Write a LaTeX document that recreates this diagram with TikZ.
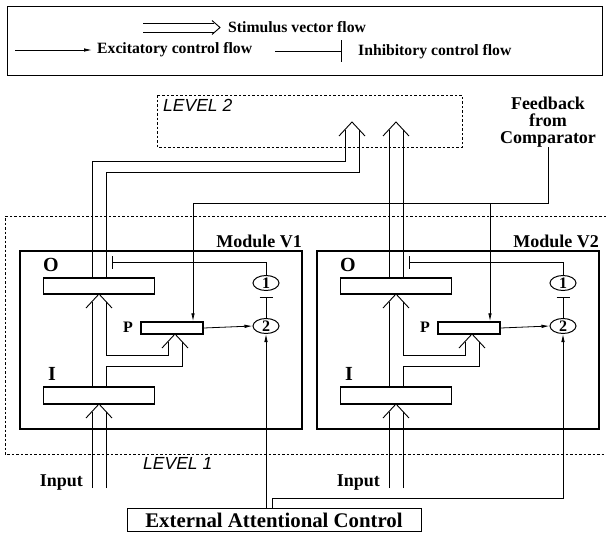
\documentclass[tikz,border=0pt]{standalone}
\usepackage{fontspec}
\setmainfont{Liberation Serif}
\setsansfont{Liberation Sans}
\usetikzlibrary{arrows.meta,shapes.geometric}

\tikzset{
  pipe/.style={line width=0.9pt},
  unit/.style={draw, line width=1.8pt, minimum width=111pt, minimum height=16pt, inner sep=0pt},
  pbox/.style={draw, line width=1.5pt, minimum width=62pt, minimum height=12pt, inner sep=0pt},
  module/.style={draw, line width=2.2pt, minimum width=282pt, minimum height=178pt, inner sep=0pt},
  cell/.style={draw, ellipse, line width=1pt, minimum width=26pt, minimum height=15pt, inner sep=0pt,
    font=\fontsize{16}{16}\selectfont\bfseries},
  excite/.style={line width=0.8pt, -{Latex[length=8pt,width=3.5pt]}},
  inhibit/.style={line width=0.8pt, -{Bar[width=13pt]}},
  level/.style={line width=0.8pt, dash pattern=on 2.5pt off 2pt},
  lbl/.style={font=\fontsize{15.7}{17}\selectfont\bfseries, inner sep=0pt},
  biglbl/.style={font=\fontsize{18}{17}\selectfont\bfseries, inner sep=0pt},
  levlbl/.style={font=\sffamily\itshape\fontsize{17.5}{17}\selectfont, inner sep=0pt},
}
% open chevron head of a stimulus pipe, tip at #2
\newcommand{\chev}[2][13]{\draw[pipe] #2 ++(-#1,14) -- ++(#1,-14) -- ++(#1,14);}

\begin{document}
\begin{tikzpicture}[x=1pt,y=-1pt]
\useasboundingbox (0,0) rectangle (606,533);

% legend
\draw[line width=0.8pt] (7,6) rectangle (602,75);
\draw[pipe] (143,23) -- (214,23) (143,32) -- (214,32);
\draw[pipe] (212,20.5) -- (220,27.5) -- (212,34.5);
\node[lbl, anchor=west] (stim) at (228,27) {Stimulus vector flow};
\coordinate (e0) at (15,50);
\coordinate (e1) at (92,50);
\draw[excite] (e0) -- (e1);
\node[lbl, anchor=west] (exc) at (97,50) {Excitatory control flow};
\coordinate (h0) at (275,51);
\coordinate (h1) at (342,51);
\draw[line width=0.8pt, -{Bar[width=22pt]}] (h0) -- (h1);
\node[lbl, anchor=west] (inh) at (358,52) {Inhibitory control flow};

% levels
\draw[level] (157,95) rectangle (462,147);
\node[levlbl, anchor=west] (lev2) at (163,105) {LEVEL 2};
\draw[level] (606,216) -- (5,216) -- (5,454) -- (606,454);
\node[levlbl, anchor=west] (lev1) at (143,463) {LEVEL 1};

\node[biglbl, align=center] (fb) at (548,122) {Feedback\\from\\Comparator};
\node[draw, line width=0.8pt, minimum width=294pt, minimum height=23pt, inner sep=0pt,
  font=\fontsize{20.8}{20}\selectfont\bfseries] (ext) at (274,520) {External Attentional Control};

% the two modules
\foreach \dx/\m in {0/1,297/2}{
\begin{scope}[xshift=\dx]
  \node[module] (mod\m) at (161,340) {};
  \node[biglbl, anchor=base east] at (302,247) {Module V\m};
  \node[unit] (O\m) at (99,286) {};
  \node[unit, minimum height=17pt] (I\m) at (99,395.5) {};
  \node[pbox] (P\m) at (172,328) {};
  \node[font=\fontsize{20}{20}\selectfont\bfseries, inner sep=0pt] at (51,265) {O};
  \node[font=\fontsize{20}{20}\selectfont\bfseries, inner sep=0pt] at (52,374) {I};
  \node[font=\fontsize{16}{16}\selectfont\bfseries, inner sep=0pt] at (128,327) {P};
  \node[cell] (a\m) at (266,283) {1};
  \node[cell] (b\m) at (266,326) {2};
  \node[biglbl, anchor=east] at (83,483) {Input};
  % stimulus pipes
  \draw[pipe] (92,488) -- (92,411.5) (106,488) -- (106,411.5);
  \chev{(99,404)}
  \draw[pipe] (92,387) -- (92,301.5);
  \draw[pipe] (106,301.5) -- (106,355) -- (168,355) -- (168,341.5);
  \draw[pipe] (106,387) -- (106,366) -- (182,366) -- (182,341.5);
  \chev{(99,294)}
  \chev{(175,334)}
  % control
  \draw[excite] (P\m.east) -- (b\m.west);
  \draw[inhibit, shorten >=5.5pt] (b\m.north) -- (a\m.south);
  \coordinate (x\m) at (112,262);
  \draw[inhibit] (a\m.north) |- (x\m);
\end{scope}
}

% outputs to level 2
\draw[pipe] (92,278) -- (92,161) -- (345,161) -- (345,129.5);
\draw[pipe] (106,278) -- (106,172) -- (359,172) -- (359,129.5);
\chev{(352,122)}
\draw[pipe] (389,277) -- (389,129.5) (403,277) -- (403,129.5);
\chev{(396,122)}

% feedback
\coordinate (f1) at (193,203);
\coordinate (f2) at (490,203);
\draw[excite] (fb.south) |- (f1) -- (f1 |- P1.north);
\draw[excite] (f2) -- (f2 |- P2.north);

% attentional control
\draw[excite] (b1 |- ext.north) -- (b1.south);
\coordinate (g) at (272,498);
\draw[excite] (g |- ext.north) -- (g) -| (b2.south);
\end{tikzpicture}
\end{document}
